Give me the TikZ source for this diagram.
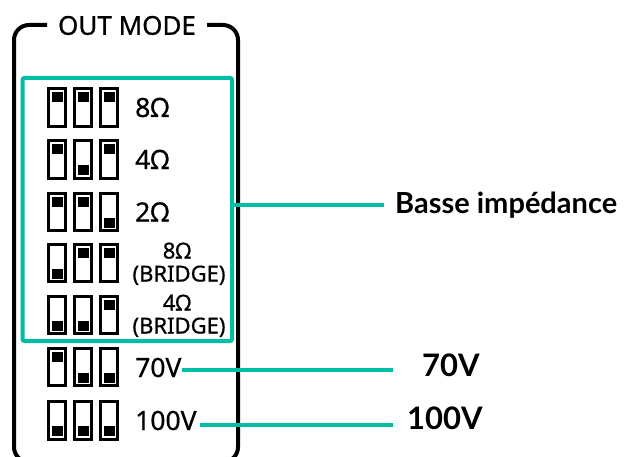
\documentclass[tikz,border=0pt]{standalone}
\usepackage{fontspec}
\setmainfont{Noto Sans}[FakeBold=0.7]
\newfontfamily\lato{Lato}
\definecolor{tealc}{RGB}{0,190,163}
\tikzset{
  switchbox/.style={draw=black, line width=2.8pt, minimum width=17.7pt, minimum height=37.7pt, inner sep=0pt, fill=white},
  knob/.style={fill=black, minimum width=11pt, minimum height=10pt, inner sep=0pt},
  swlabel/.style={anchor=base west, inner sep=0pt, font=\fontsize{26.5}{30}\selectfont},
  brlabel/.style={inner sep=0pt, font=\fontsize{22}{25}\selectfont},
  rlabel/.style={anchor=base west, inner sep=0pt, font=\lato\bfseries\fontsize{29}{32}\selectfont},
  tealline/.style={draw=tealc, line width=4.5pt},
  tealbox/.style={draw=tealc, line width=4pt, rounded corners=2pt, inner sep=0pt},
  outerbox/.style={draw=black, line width=4pt, rounded corners=15pt}
}
\newcommand\swrow[5]{%
  \foreach \xx/\dy [count=\k] in {57/#3,83/#4,109/#5} {
    \node[switchbox] (#1s\k) at (\xx,#2) {};
    \node[knob] (#1k\k) at ([yshift=\dy pt]#1s\k.center) {};
  }%
}
\begin{document}
\begin{tikzpicture}[x=1pt,y=-1pt]
\clip (0,0) rectangle (631,457);
% outer frame
\draw[outerbox] (47,25) -| (14,462) -| (238,25) -- (207,25);
\node[inner sep=0pt, font=\fontsize{26}{30}\selectfont] (title) at (127,25.5) {OUT MODE};
% teal group box
\node[tealbox, minimum width=209.5pt, minimum height=263pt] (grp) at (127.25,209.5) {};
% switches
\swrow{a}{107.5}{10.5}{10.5}{10.5}
\swrow{b}{159.5}{10.5}{-10.5}{10.5}
\swrow{c}{212}{10.5}{10.5}{-10.5}
\swrow{d}{263}{-10.5}{10.5}{10.5}
\swrow{e}{315}{-10.5}{-10.5}{10.5}
\swrow{f}{367}{10.5}{-10.5}{-10.5}
\swrow{g}{420.5}{-10.5}{-10.5}{-10.5}
% labels
\node[swlabel] (la) at (135,117) {8Ω};
\node[swlabel] (lb) at (135,169) {4Ω};
\node[swlabel] (lc) at (135,221.5) {2Ω};
\node[brlabel, anchor=base] (ld1) at (177,258.5) {8Ω};
\node[brlabel, anchor=base] (ld2) at (179,281.5) {(BRIDGE)};
\node[brlabel, anchor=base] (le1) at (177,310.5) {4Ω};
\node[brlabel, anchor=base] (le2) at (179,333.5) {(BRIDGE)};
\node[swlabel] (lf) at (135,377) {70V};
\node[swlabel] (lg) at (135,430) {100V};
% right labels
\node[rlabel] (basse) at (395,213) {Basse impédance};
\node[rlabel, font=\lato\bfseries\fontsize{31}{34}\selectfont] (r70) at (422,376) {70V};
\node[rlabel, font=\lato\bfseries\fontsize{31}{34}\selectfont] (r100) at (407,429) {100V};
% connectors
\coordinate (cb) at (384,205);
\coordinate (c70) at (393,370);
\coordinate (c100) at (393,425);
\draw[tealline] (grp.east |- cb) -- (cb);
\draw[tealline] (lf.east |- c70) -- (c70);
\draw[tealline, shorten <=3pt] (lg.east |- c100) -- (c100);
\end{tikzpicture}
\end{document}
